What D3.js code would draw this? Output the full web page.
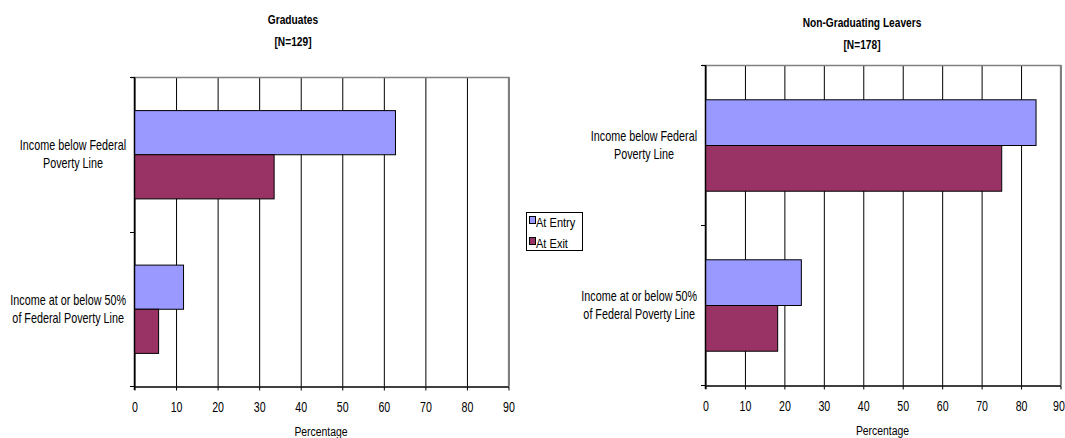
<!DOCTYPE html>
<html>
<head>
<meta charset="utf-8">
<script src="https://cdn.jsdelivr.net/npm/d3@7"></script>
<style>
  html, body { margin: 0; padding: 0; background: #fff; }
  svg { display: block; }
  text { font-family: "Liberation Sans", Arial, sans-serif; fill: #000; }
</style>
</head>
<body>
<svg id="chart" width="1065" height="438"></svg>
<script>
// Categories (each label split over two lines) and series
const categories = ["below", "half"];
const categoryLines = [
  ["Income below Federal", "Poverty Line"],
  ["Income at or below 50%", "of Federal Poverty Line"]
];
const seriesNames = ["At Entry", "At Exit"];
const seriesColors = ["#9999FF", "#993366"];

// Percentages for graduates
const graduatesEntry = [62.8, 11.8];
const graduatesExit = [33.6, 5.8];

// Percentages for non-graduating leavers
const leaversEntry = [83.8, 24.3];
const leaversExit = [75.1, 18.3];

const xTicks = [0, 10, 20, 30, 40, 50, 60, 70, 80, 90];
const axisTitle = "Percentage";

// horizontal compression giving a narrow typeface look
const NARROW = 0.76;

const svg = d3.select("#chart");

// text placed at (x, y) and squeezed horizontally around its anchor
function narrowText(parent, x, y, str, size, anchor, weight, squeeze) {
  const s = squeeze || NARROW;
  return parent.append("text")
    .attr("transform", `translate(${x},${y}) scale(${s},1)`)
    .attr("text-anchor", anchor || "start")
    .style("font-size", size + "px")
    .style("font-weight", weight || "normal")
    .text(str);
}

function drawPanel(opts) {
  const { left, right, top, bottom, titleLines, titleX, titleY, entry, exit, lastTickShift } = opts;
  const g = svg.append("g");

  const x = d3.scaleLinear().domain([0, 90]).range([left, right]);
  const y = d3.scaleBand().domain(categories).range([top, bottom]).padding(0);
  const ys = d3.scaleBand().domain(seriesNames).range([0, y.bandwidth()])
    .paddingInner(0).paddingOuter(0.75);

  // vertical gridlines
  g.append("g")
    .attr("transform", `translate(0.5,${bottom})`)
    .call(d3.axisBottom(x).tickValues(xTicks).tickSize(-(bottom - top)).tickFormat(""))
    .call(a => a.select(".domain").remove())
    .call(a => a.selectAll("line").attr("stroke", "#000").attr("stroke-width", 1));

  // plot border (top and right)
  g.append("path")
    .attr("d", `M${left - 3},${top + 0.5}H${right + 0.5}V${bottom}`)
    .attr("fill", "none").attr("stroke", "#808080").attr("stroke-width", 1.3);

  // bars
  categories.forEach((c, i) => {
    [entry[i], exit[i]].forEach((v, j) => {
      g.append("rect")
        .attr("x", x(0) + 0.5)
        .attr("y", y(c) + ys(seriesNames[j]) + 0.5)
        .attr("width", x(v) - x(0))
        .attr("height", ys.bandwidth())
        .attr("fill", seriesColors[j])
        .attr("stroke", "#000").attr("stroke-width", 1);
    });
  });

  // x axis
  const xa = g.append("g")
    .attr("transform", `translate(0.5,${bottom + 0.5})`)
    .call(d3.axisBottom(x).tickValues(xTicks).tickSize(4).tickSizeOuter(0).tickPadding(11.5));
  xa.select(".domain").attr("stroke", "#000").attr("stroke-width", 1.3);
  xa.selectAll("line").attr("stroke", "#000");
  xa.selectAll("text")
    .attr("fill", "#000")
    .style("font-size", "14px")
    .style("font-family", null)
    .attr("transform", (d, i, n) =>
      `translate(${i === n.length - 1 ? -(lastTickShift || 0) : 0},0) scale(${NARROW},1)`);

  // y axis line and boundary ticks
  g.append("line")
    .attr("x1", left + 0.5).attr("x2", left + 0.5)
    .attr("y1", top).attr("y2", bottom + 4)
    .attr("stroke", "#000").attr("stroke-width", 1.5);
  const bounds = categories.map(c => y(c)).concat([bottom]);
  g.selectAll(".ytick").data(bounds).join("line")
    .attr("x1", left - 4).attr("x2", left)
    .attr("y1", d => Math.round(d) + 0.5).attr("y2", d => Math.round(d) + 0.5)
    .attr("stroke", "#000");

  // category labels: lines centred on each other, block right-aligned to the axis
  const catSize = 14.2;
  categories.forEach((c, i) => {
    const lines = categoryLines[i];
    const cy = y(c) + y.bandwidth() / 2;
    const widths = lines.map(ln => {
      const p = g.append("text").style("font-size", catSize + "px").text(ln);
      const w = p.node().getComputedTextLength() * NARROW;
      p.remove();
      return w;
    });
    const cx = left - 8 - d3.max(widths) / 2;
    lines.forEach((ln, k) => {
      narrowText(g, cx, cy + (k - 0.5) * 18 + 5, ln, catSize, "middle");
    });
  });

  // axis title
  narrowText(g, (left + right) / 2, bottom + 50, axisTitle, 13.7, "middle");

  // chart title
  titleLines.forEach((ln, k) => {
    narrowText(g, titleX, titleY + k * 22.5, ln, 13.4, "middle", "bold");
  });
}

drawPanel({
  left: 134, right: 508, top: 77, bottom: 386,
  titleLines: ["Graduates", "[N=129]"], titleX: 293, titleY: 23.5,
  entry: graduatesEntry, exit: graduatesExit
});

drawPanel({
  left: 705, right: 1060, top: 65, bottom: 385,
  titleLines: ["Non-Graduating Leavers", "[N=178]"], titleX: 862, titleY: 26.5,
  entry: leaversEntry, exit: leaversExit, lastTickShift: 2
});

// legend
const legend = svg.append("g").attr("transform", "translate(526.5,212.5)");
legend.append("rect").attr("width", 56).attr("height", 38)
  .attr("fill", "#fff").attr("stroke", "#000").attr("stroke-width", 1);
seriesNames.forEach((s, i) => {
  legend.append("rect")
    .attr("x", 3).attr("y", 4 + i * 21)
    .attr("width", 6).attr("height", 7)
    .attr("fill", seriesColors[i]).attr("stroke", "#000");
  narrowText(legend, 9.5, 14 + i * 21, s, 13.5, "start", "normal", 0.82);
});
</script>
</body>
</html>
